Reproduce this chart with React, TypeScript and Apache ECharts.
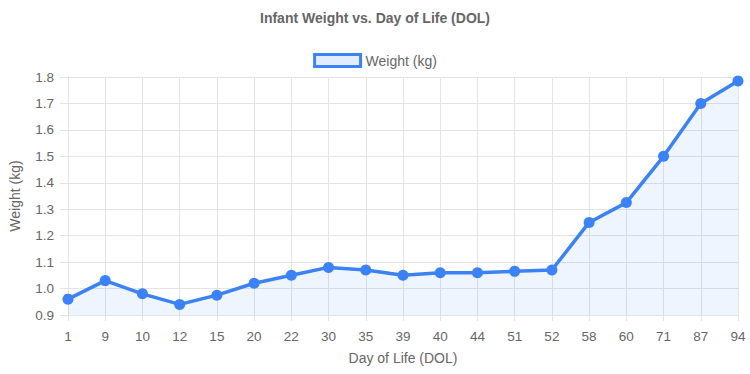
import React, { useEffect, useRef } from "react";
import * as echarts from "echarts";

const days = ["1", "9", "10", "12", "15", "20", "22", "30", "35", "39", "40", "44", "51", "52", "58", "60", "71", "87", "94"];
const weights = [0.96, 1.03, 0.98, 0.94, 0.975, 1.02, 1.05, 1.08, 1.07, 1.05, 1.06, 1.06, 1.065, 1.07, 1.25, 1.325, 1.5, 1.7, 1.785];

const LINE = "#3b82f6";
const FILL = "rgba(59,130,246,0.12)";
const TXT = "#666";
const GRID = "#e3e3e3";
const FONT = "'Liberation Sans', Arial, sans-serif";

export default function App() {
  const ref = useRef<HTMLDivElement>(null);
  useEffect(() => {
    const chart = echarts.init(ref.current!, null, { renderer: "svg" });
    chart.setOption({
      animation: false,
      textStyle: { fontFamily: FONT },
      title: {
        text: "Infant Weight vs. Day of Life (DOL)",
        left: "center",
        top: 6,
        textStyle: { fontSize: 14, fontWeight: "bold", color: TXT, fontFamily: FONT },
      },
      legend: {
        top: 48,
        left: "center",
        itemWidth: 46,
        itemHeight: 12,
        itemGap: 10,
        textStyle: { fontSize: 14, color: TXT, fontFamily: FONT },
        data: [
          {
            name: "Weight (kg)",
            icon: "rect",
            itemStyle: { color: "rgba(59,130,246,0.15)", borderColor: LINE, borderWidth: 3 },
          },
        ],
      },
      grid: { left: 62, right: 12, top: 77, bottom: 59, containLabel: false },
      xAxis: {
        type: "category",
        data: days,
        boundaryGap: false,
        name: "Day of Life (DOL)",
        nameLocation: "middle",
        nameGap: 36,
        nameTextStyle: { fontSize: 14, color: TXT, fontFamily: FONT },
        axisLine: { show: true, lineStyle: { color: GRID, width: 1 } },
        axisTick: { show: true, length: 6, lineStyle: { color: GRID } },
        axisLabel: { fontSize: 13.5, color: TXT, margin: 14, fontFamily: FONT },
        splitLine: { show: true, lineStyle: { color: GRID, width: 1 } },
      },
      yAxis: {
        type: "value",
        min: 0.9,
        max: 1.8,
        interval: 0.1,
        name: "Weight (kg)",
        nameLocation: "middle",
        nameRotate: 90,
        nameGap: 46,
        nameTextStyle: { fontSize: 14, color: TXT, fontFamily: FONT },
        axisLine: { show: true, lineStyle: { color: GRID, width: 1 } },
        axisTick: { show: true, length: 8, lineStyle: { color: GRID } },
        axisLabel: {
          fontSize: 13.5,
          color: TXT,
          margin: 14,
          fontFamily: FONT,
          formatter: (v: number) => v.toFixed(1),
        },
        splitLine: { show: true, lineStyle: { color: GRID, width: 1 } },
      },
      series: [
        {
          name: "Weight (kg)",
          type: "line",
          data: weights,
          symbol: "circle",
          symbolSize: 11,
          showSymbol: true,
          itemStyle: { color: LINE },
          lineStyle: { color: LINE, width: 3.5 },
          areaStyle: { color: FILL, origin: "start" },
        },
      ],
    });
    return () => chart.dispose();
  }, []);
  return <div ref={ref} style={{ width: 750, height: 374, position: "absolute", left: 0, top: 0, background: "#fff" }} />;
}
